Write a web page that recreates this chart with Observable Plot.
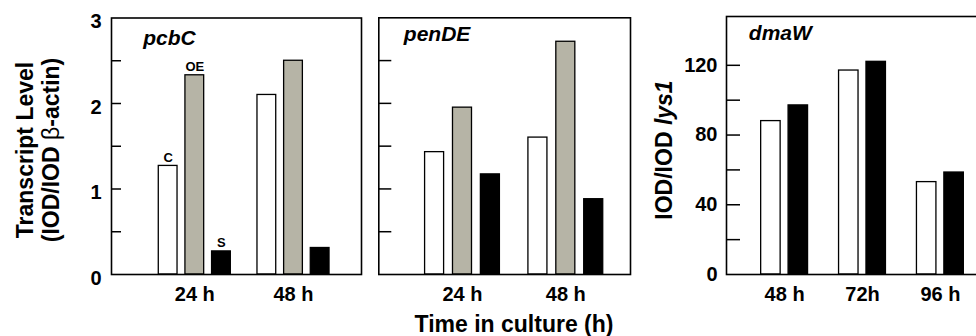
<!DOCTYPE html>
<html><head><meta charset="utf-8">
<script src="https://cdn.jsdelivr.net/npm/d3@7"></script>
<script src="https://cdn.jsdelivr.net/npm/@observablehq/plot@0.6"></script>
<style>
body{margin:0;background:#fff;overflow:hidden;}
#wrap{position:relative;width:976px;height:336px;overflow:hidden;font-family:"Liberation Sans",Arial,sans-serif;font-weight:bold;color:#000;background:#fff;}
.panel{position:absolute;top:0;}
.lab{position:absolute;white-space:nowrap;text-align:center;font-size:23px;line-height:26px;transform:translate(-50%,-50%);}
.rot{transform:translate(-50%,-50%) rotate(-90deg);}
.thin{font-weight:normal;}
</style></head><body><div id="wrap"></div>
<script>
// ---- data ----
const pcbTimes = ["24 h", "48 h"];
const pcbSeries = ["C", "OE", "S"];
const pcbC = [1.27, 2.10];
const pcbOE = [2.33, 2.50];
const pcbS = [0.27, 0.31];

const penTimes = ["24 h", "48 h"];
const penSeries = ["C", "OE", "S"];
const penC = [1.43, 1.60];
const penOE = [1.95, 2.72];
const penS = [1.17, 0.88];

const dmaTimes = ["48 h", "72h", "96 h"];
const dmaSeries = ["C", "S"];
const dmaC = [88, 117, 53];
const dmaS = [97, 122, 58.5];

const leftLabels = [0, 1, 2, 3];
const leftMinor = [0.5, 1, 1.5, 2, 2.5];
const rightLabels = [0, 40, 80, 120];
const rightMinor = [20, 40, 60, 80, 100, 120];

const fills = {C: "white", OE: "#b6b4a6", S: "black"};
const FONT = '"Liberation Sans", Arial, sans-serif';

function rows(times, seriesNames, valuesBySeries, spacing, barWidth) {
  const n = seriesNames.length;
  const out = [];
  times.forEach((t, gi) => seriesNames.forEach((s, si) => {
    const c = gi + (si - (n - 1) / 2) * spacing;
    out.push({time: t, series: s, value: valuesBySeries[si][gi], xc: c, x1: c - barWidth / 2, x2: c + barWidth / 2});
  }));
  return out;
}

function panel(o) {
  const marks = [
    Plot.rectY(o.data, {x1: "x1", x2: "x2", y1: 0, y2: "value", fill: "series", stroke: "black", strokeWidth: 1.3}),
    Plot.axisY(o.minor, {tickSize: o.tickLen, dx: o.tickLen, tickFormat: () => "", strokeWidth: 1.5, label: null}),
    Plot.axisX(o.times.map((_, i) => i), {tickFormat: i => o.times[i], tickSize: 0, tickPadding: 12, fontSize: 20, fontWeight: "bold", label: null}),
    Plot.frame({strokeWidth: 1.6}),
    Plot.text([o.gene], {frameAnchor: "top-left", dx: o.geneDx, dy: o.geneDy, textAnchor: "start", lineAnchor: "bottom", fontSize: 21, fontStyle: "italic", fontWeight: "bold"})
  ];
  if (o.labels) marks.push(Plot.axisY(o.labels, {tickSize: 0, tickPadding: o.labelPad, dy: o.labelDy, tickFormat: d => String(d), fontSize: 20, fontWeight: "bold", label: null}));
  if (o.extra) marks.push(...o.extra);
  return Plot.plot({
    width: o.width, height: 300,
    marginLeft: o.mL, marginRight: o.mR, marginTop: o.mT, marginBottom: 26,
    style: {fontFamily: FONT, fontWeight: "bold", background: "transparent", color: "black", overflow: "visible"},
    x: {type: "linear", domain: o.xDomain, label: null},
    y: {domain: o.yDomain, label: null},
    color: {domain: o.series, range: o.series.map(s => fills[s])},
    marks
  });
}

const d1 = rows(pcbTimes, pcbSeries, [pcbC, pcbOE, pcbS], 0.27, 0.19);
const d2 = rows(penTimes, penSeries, [penC, penOE, penS], 0.27, 0.184);
const d3rows = rows(dmaTimes, dmaSeries, [dmaC, dmaS], 0.352, 0.25);

const p1 = panel({data: d1, times: pcbTimes, series: pcbSeries, width: 370, mL: 111, mR: 9, mT: 17.5,
  xDomain: [-0.844, 1.689], yDomain: [0, 3], minor: leftMinor, tickLen: 10, labels: leftLabels, labelPad: 10, labelDy: 4,
  gene: "pcbC", geneDx: 31.7, geneDy: 26.5,
  extra: [Plot.text(d1.filter(d => d.time === pcbTimes[0]), {x: "xc", y: "value", text: "series", dy: -4, lineAnchor: "bottom", fontSize: 13, fontWeight: "bold"})]});
const p2 = panel({data: d2, times: penTimes, series: penSeries, width: 270, mL: 8.3, mR: 10, mT: 17.3,
  xDomain: [-0.81, 1.626], yDomain: [0, 3], minor: leftMinor, tickLen: 13, labels: null,
  gene: "penDE", geneDx: 25, geneDy: 22.7});
const p3 = panel({data: d3rows, times: dmaTimes, series: dmaSeries, width: 380, mL: 96, mR: 12, mT: 16,
  xDomain: [-0.746, 2.746], yDomain: [0, 148], minor: rightMinor, tickLen: 14, labels: rightLabels, labelPad: 9, labelDy: 0,
  gene: "dmaW", geneDx: 22.3, geneDy: 23.3});

const wrap = document.getElementById("wrap");
[[p1, 0, 370], [p2, 370, 270], [p3, 630, 380]].forEach(([svg, left, w]) => {
  const div = document.createElement("div");
  div.className = "panel";
  div.style.left = left + "px";
  div.style.width = w + "px";
  div.append(svg);
  wrap.append(div);
});

function addLabel(html, x, y, rotate, lh) {
  const div = document.createElement("div");
  div.className = "lab" + (rotate ? " rot" : "");
  div.style.left = x + "px";
  div.style.top = y + "px";
  if (lh) div.style.lineHeight = lh + "px";
  div.innerHTML = html;
  wrap.append(div);
}
addLabel('Transcript Level<br>(IOD/IOD <span class="thin">β</span>-actin)', 38.4, 150, true);
addLabel('IOD/IOD <i>lys1</i>', 664, 150, true);
addLabel('Time in culture (h)', 514, 324, false, 22);
</script></body></html>
